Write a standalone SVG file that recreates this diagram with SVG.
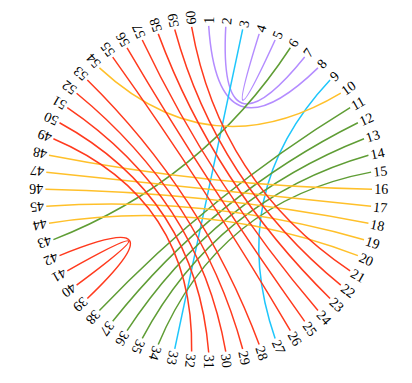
<svg xmlns="http://www.w3.org/2000/svg" width="412" height="383" viewBox="0 0 412 383">
<style>
.lbl{font-family:"Liberation Serif","Times New Roman",serif;font-size:14px;fill:#000;}
.c{fill:none;stroke-width:1.5;}
.p{stroke:#b48cff;}
.cy{stroke:#1ec6fb;}
.g{stroke:#5f9d35;}
.y{stroke:#ffc02a;}
.r{stroke:#ff3a1e;}
</style>
<rect width="412" height="383" fill="#fff"/>
<g id="connectors" transform="translate(208.7,189.2)">
<g transform="rotate(21)">
<path class="c p" d="M-58.52,-152.45 Q0,-25.92 58.52,-152.45"/>
<path class="c p" d="M-42.27,-157.74 Q0,-26.82 42.27,-157.74"/>
<path class="c p" d="M-8.55,-163.08 Q0,-27.72 8.55,-163.08"/>
</g>
<g transform="rotate(102)">
<path class="c cy" d="M-163.3,0 L163.3,0"/>
<path class="c cy" d="M-132.11,-95.99 Q0,-16.32 132.11,-95.99"/>
</g>
<g transform="rotate(141)">
<path class="c g" d="M-152.45,58.52 Q0,9.95 152.45,58.52"/>
<path class="c g" d="M-161.29,-25.55 Q0,-4.34 161.29,-25.55"/>
<path class="c g" d="M-157.74,-42.27 Q0,-7.19 157.74,-42.27"/>
<path class="c g" d="M-152.45,-58.52 Q0,-9.95 152.45,-58.52"/>
<path class="c g" d="M-145.5,-74.14 Q0,-12.6 145.5,-74.14"/>
<path class="c g" d="M-136.96,-88.94 Q0,-15.12 136.96,-88.94"/>
</g>
<g transform="rotate(186)">
<path class="c y" d="M-121.35,109.27 Q0,18.58 121.35,109.27"/>
<path class="c y" d="M-162.41,17.07 Q0,2.9 162.41,17.07"/>
<path class="c y" d="M-163.3,0 L163.3,0"/>
<path class="c y" d="M-162.41,-17.07 Q0,-2.9 162.41,-17.07"/>
<path class="c y" d="M-159.73,-33.95 Q0,-5.77 159.73,-33.95"/>
<path class="c y" d="M-155.31,-50.46 Q0,-8.58 155.31,-50.46"/>
</g>
<g transform="rotate(237)">
<path class="c r" d="M-145.5,74.14 Q0,12.6 145.5,74.14"/>
<path class="c r" d="M-152.45,58.52 Q0,9.95 152.45,58.52"/>
<path class="c r" d="M-157.74,42.27 Q0,7.19 157.74,42.27"/>
<path class="c r" d="M-161.29,25.55 Q0,4.34 161.29,25.55"/>
<path class="c r" d="M-163.08,8.55 Q0,1.45 163.08,8.55"/>
<path class="c r" d="M-163.08,-8.55 Q0,-1.45 163.08,-8.55"/>
<path class="c r" d="M-157.74,-42.27 Q0,-7.19 157.74,-42.27"/>
<path class="c r" d="M-152.45,-58.52 Q0,-9.95 152.45,-58.52"/>
<path class="c r" d="M-145.5,-74.14 Q0,-12.6 145.5,-74.14"/>
<path class="c r" d="M-136.96,-88.94 Q0,-15.12 136.96,-88.94"/>
<path class="c r" d="M-126.91,-102.77 Q0,-17.47 126.91,-102.77"/>
<path class="c r" d="M-25.55,-161.29 Q0,-27.42 25.55,-161.29"/>
<path class="c r" d="M-8.55,-163.08 Q0,-27.72 8.55,-163.08"/>
</g>
</g>
<g id="nodes" transform="translate(208.7,189.2)">
<g id="n1"><text class="lbl" transform="rotate(-90) translate(165.5,0)" dy="0.35em">1</text></g>
<g id="n2"><text class="lbl" transform="rotate(-84) translate(165.5,0)" dy="0.35em">2</text></g>
<g id="n3"><text class="lbl" transform="rotate(-78) translate(165.5,0)" dy="0.35em">3</text></g>
<g id="n4"><text class="lbl" transform="rotate(-72) translate(165.5,0)" dy="0.35em">4</text></g>
<g id="n5"><text class="lbl" transform="rotate(-66) translate(165.5,0)" dy="0.35em">5</text></g>
<g id="n6"><text class="lbl" transform="rotate(-60) translate(165.5,0)" dy="0.35em">6</text></g>
<g id="n7"><text class="lbl" transform="rotate(-54) translate(165.5,0)" dy="0.35em">7</text></g>
<g id="n8"><text class="lbl" transform="rotate(-48) translate(165.5,0)" dy="0.35em">8</text></g>
<g id="n9"><text class="lbl" transform="rotate(-42) translate(165.5,0)" dy="0.35em">9</text></g>
<g id="n10"><text class="lbl" transform="rotate(-36) translate(165.5,0)" dy="0.35em">10</text></g>
<g id="n11"><text class="lbl" transform="rotate(-30) translate(165.5,0)" dy="0.35em">11</text></g>
<g id="n12"><text class="lbl" transform="rotate(-24) translate(165.5,0)" dy="0.35em">12</text></g>
<g id="n13"><text class="lbl" transform="rotate(-18) translate(165.5,0)" dy="0.35em">13</text></g>
<g id="n14"><text class="lbl" transform="rotate(-12) translate(165.5,0)" dy="0.35em">14</text></g>
<g id="n15"><text class="lbl" transform="rotate(-6) translate(165.5,0)" dy="0.35em">15</text></g>
<g id="n16"><text class="lbl" transform="rotate(0) translate(165.5,0)" dy="0.35em">16</text></g>
<g id="n17"><text class="lbl" transform="rotate(6) translate(165.5,0)" dy="0.35em">17</text></g>
<g id="n18"><text class="lbl" transform="rotate(12) translate(165.5,0)" dy="0.35em">18</text></g>
<g id="n19"><text class="lbl" transform="rotate(18) translate(165.5,0)" dy="0.35em">19</text></g>
<g id="n20"><text class="lbl" transform="rotate(24) translate(165.5,0)" dy="0.35em">20</text></g>
<g id="n21"><text class="lbl" transform="rotate(30) translate(165.5,0)" dy="0.35em">21</text></g>
<g id="n22"><text class="lbl" transform="rotate(36) translate(165.5,0)" dy="0.35em">22</text></g>
<g id="n23"><text class="lbl" transform="rotate(42) translate(165.5,0)" dy="0.35em">23</text></g>
<g id="n24"><text class="lbl" transform="rotate(48) translate(165.5,0)" dy="0.35em">24</text></g>
<g id="n25"><text class="lbl" transform="rotate(54) translate(165.5,0)" dy="0.35em">25</text></g>
<g id="n26"><text class="lbl" transform="rotate(60) translate(165.5,0)" dy="0.35em">26</text></g>
<g id="n27"><text class="lbl" transform="rotate(66) translate(165.5,0)" dy="0.35em">27</text></g>
<g id="n28"><text class="lbl" transform="rotate(72) translate(165.5,0)" dy="0.35em">28</text></g>
<g id="n29"><text class="lbl" transform="rotate(78) translate(165.5,0)" dy="0.35em">29</text></g>
<g id="n30"><text class="lbl" transform="rotate(84) translate(165.5,0)" dy="0.35em">30</text></g>
<g id="n31"><text class="lbl" transform="rotate(90) translate(165.5,0)" dy="0.35em">31</text></g>
<g id="n32"><text class="lbl" transform="rotate(96) translate(165.5,0)" dy="0.35em">32</text></g>
<g id="n33"><text class="lbl" transform="rotate(102) translate(165.5,0)" dy="0.35em">33</text></g>
<g id="n34"><text class="lbl" transform="rotate(108) translate(165.5,0)" dy="0.35em">34</text></g>
<g id="n35"><text class="lbl" transform="rotate(114) translate(165.5,0)" dy="0.35em">35</text></g>
<g id="n36"><text class="lbl" transform="rotate(120) translate(165.5,0)" dy="0.35em">36</text></g>
<g id="n37"><text class="lbl" transform="rotate(126) translate(165.5,0)" dy="0.35em">37</text></g>
<g id="n38"><text class="lbl" transform="rotate(132) translate(165.5,0)" dy="0.35em">38</text></g>
<g id="n39"><text class="lbl" transform="rotate(138) translate(165.5,0)" dy="0.35em">39</text></g>
<g id="n40"><text class="lbl" transform="rotate(144) translate(165.5,0)" dy="0.35em">40</text></g>
<g id="n41"><text class="lbl" transform="rotate(150) translate(165.5,0)" dy="0.35em">41</text></g>
<g id="n42"><text class="lbl" transform="rotate(156) translate(165.5,0)" dy="0.35em">42</text></g>
<g id="n43"><text class="lbl" transform="rotate(162) translate(165.5,0)" dy="0.35em">43</text></g>
<g id="n44"><text class="lbl" transform="rotate(168) translate(165.5,0)" dy="0.35em">44</text></g>
<g id="n45"><text class="lbl" transform="rotate(174) translate(165.5,0)" dy="0.35em">45</text></g>
<g id="n46"><text class="lbl" transform="rotate(180) translate(165.5,0)" dy="0.35em">46</text></g>
<g id="n47"><text class="lbl" transform="rotate(186) translate(165.5,0)" dy="0.35em">47</text></g>
<g id="n48"><text class="lbl" transform="rotate(192) translate(165.5,0)" dy="0.35em">48</text></g>
<g id="n49"><text class="lbl" transform="rotate(198) translate(165.5,0)" dy="0.35em">49</text></g>
<g id="n50"><text class="lbl" transform="rotate(204) translate(165.5,0)" dy="0.35em">50</text></g>
<g id="n51"><text class="lbl" transform="rotate(210) translate(165.5,0)" dy="0.35em">51</text></g>
<g id="n52"><text class="lbl" transform="rotate(216) translate(165.5,0)" dy="0.35em">52</text></g>
<g id="n53"><text class="lbl" transform="rotate(222) translate(165.5,0)" dy="0.35em">53</text></g>
<g id="n54"><text class="lbl" transform="rotate(228) translate(165.5,0)" dy="0.35em">54</text></g>
<g id="n55"><text class="lbl" transform="rotate(234) translate(165.5,0)" dy="0.35em">55</text></g>
<g id="n56"><text class="lbl" transform="rotate(240) translate(165.5,0)" dy="0.35em">56</text></g>
<g id="n57"><text class="lbl" transform="rotate(246) translate(165.5,0)" dy="0.35em">57</text></g>
<g id="n58"><text class="lbl" transform="rotate(252) translate(165.5,0)" dy="0.35em">58</text></g>
<g id="n59"><text class="lbl" transform="rotate(258) translate(165.5,0)" dy="0.35em">59</text></g>
<g id="n60"><text class="lbl" transform="rotate(264) translate(165.5,0)" dy="0.35em">60</text></g>
</g>
</svg>
